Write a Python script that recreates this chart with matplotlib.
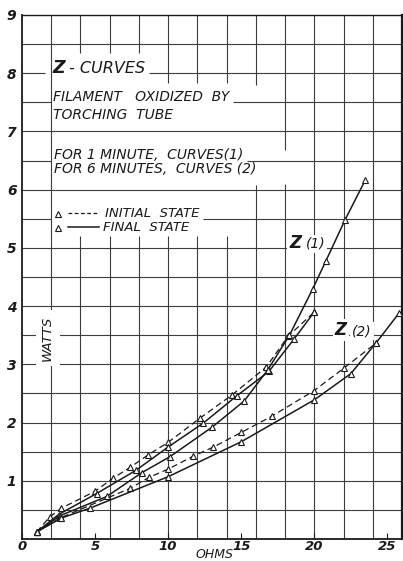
"""Z-curves: watts vs ohms for an oxidized filament."""

from matplotlib import pyplot as plt

# Z(1) curves, both ending at 20 ohms
z1a_x = [1.0, 1.9, 2.7, 5.0, 6.2, 7.4, 8.6, 10.0, 12.2, 14.4, 16.7, 18.2, 20.0]
z1a_y = [0.12, 0.38, 0.53, 0.82, 1.04, 1.23, 1.44, 1.66, 2.08, 2.48, 2.95, 3.48, 3.9]
z1b_x = [1.0, 2.5, 5.1, 7.8, 10.0, 12.4, 14.7, 16.9, 18.6, 20.0]
z1b_y = [0.12, 0.42, 0.78, 1.18, 1.58, 1.99, 2.46, 2.88, 3.43, 3.9]
# Z(1) steep curve
z1c_x = [1.0, 2.6, 5.8, 8.2, 10.1, 13.0, 15.2, 16.8, 18.3, 19.9, 20.8, 22.1, 23.5]
z1c_y = [0.12, 0.40, 0.73, 1.14, 1.41, 1.92, 2.37, 2.90, 3.50, 4.30, 4.78, 5.48, 6.17]
# Z(2) curves
z2a_x = [1.0, 2.6, 7.4, 8.7, 10.0, 11.7, 13.1, 15.0, 17.1, 20.0, 22.0, 24.2]
z2a_y = [0.12, 0.36, 0.87, 1.06, 1.20, 1.42, 1.58, 1.83, 2.11, 2.55, 2.93, 3.36]
z2b_x = [1.0, 2.7, 4.65, 10.0, 15.0, 20.0, 22.5, 24.2, 25.8]
z2b_y = [0.12, 0.36, 0.53, 1.07, 1.67, 2.39, 2.84, 3.36, 3.88]

x_ticks = [0, 5, 10, 15, 20, 25]
y_ticks = [1, 2, 3, 4, 5, 6, 7, 8, 9]

INK = "#1a1a1a"
GRID = "#3c3c3c"
FONT = dict(family="DejaVu Sans", style="oblique", color=INK)

fig = plt.figure(figsize=(4.03, 5.61), dpi=100)
ax = fig.add_axes([22 / 403, 22 / 561, 380 / 403, 524 / 561])
ax.set_xlim(0, 26)
ax.set_ylim(0, 9)

# --- grid, broken where the lettering sits ---
v_breaks = {
    4: [(0, 5.2), (8.35, 9)], 6: [(0, 5.2), (8.35, 9)],
    8: [(0, 5.2), (8.35, 9)], 10: [(0, 5.2), (7.83, 9)],
    12: [(0, 5.2), (7.83, 9)], 14: [(0, 5.2), (7.83, 9)],
    16: [(0, 6.08), (7.8, 9)], 18: [(0, 6.1), (6.68, 9)],
}
for gx in range(2, 26, 2):
    for y0, y1 in v_breaks.get(gx, [(0, 9)]):
        ax.vlines(gx, y0, y1, color=GRID, lw=0.8, zorder=1)

h_left = {8.0: 1.57, 7.5: 2.0, 6.5: 2.0, 5.5: 2.0}
for i in range(1, 18):
    gy = i * 0.5
    if gy in h_left:
        ax.hlines(gy, 0, h_left[gy], color=GRID, lw=0.8, zorder=1)
    else:
        ax.hlines(gy, 0, 26, color=GRID, lw=0.8, zorder=1)

# --- curves ---
mk = dict(marker="^", ms=4.5, mfc="white", mec=INK, mew=0.8, color=INK,
          zorder=4, clip_on=True)
ax.plot(z1a_x, z1a_y, ls=(0, (5, 3)), lw=0.9, **mk)
ax.plot(z1b_x, z1b_y, ls="-", lw=1.1, **mk)
ax.plot(z1c_x, z1c_y, ls="-", lw=1.1, **mk)
ax.plot(z2a_x, z2a_y, ls=(0, (5, 3)), lw=0.9, **mk)
ax.plot(z2b_x, z2b_y, ls="-", lw=1.1, **mk)

# --- lettering ---
ax.text(2.1, 8.0, "Z", fontsize=12.5, fontweight="bold", **FONT)
t_title = ax.text(3.2, 8.0, "- CURVES", fontsize=11.5, **FONT)
t_fil = ax.text(2.1, 7.53, "FILAMENT   OXIDIZED  BY", fontsize=10, **FONT)
ax.text(2.1, 7.22, "TORCHING  TUBE", fontsize=10, **FONT)
t_for1 = ax.text(2.2, 6.53, "FOR 1 MINUTE,  CURVES(1)", fontsize=10, **FONT)
ax.text(2.2, 6.29, "FOR 6 MINUTES,  CURVES (2)", fontsize=10, **FONT)

# legend drawn by hand: triangle, line sample, label
ax.plot([2.45], [5.58], **mk)
ax.plot([3.15, 5.1], [5.6, 5.6], ls=(0, (3, 2)), lw=0.9, color=INK)
t_init = ax.text(5.7, 5.53, "INITIAL  STATE", fontsize=9.5, **FONT)
ax.plot([2.45], [5.34], **mk)
ax.plot([3.15, 5.3], [5.36, 5.36], ls="-", lw=1.1, color=INK)
ax.text(5.55, 5.29, "FINAL  STATE", fontsize=9.5, **FONT)

white = dict(facecolor="white", edgecolor="none", pad=1.5)
ax.text(18.3, 5.0, "Z", fontsize=12, fontweight="bold", zorder=3,
        bbox=white, **FONT)
ax.text(19.4, 5.0, "(1)", fontsize=10, zorder=3, bbox=white, **FONT)
ax.text(21.4, 3.5, "Z", fontsize=12, fontweight="bold", zorder=3,
        bbox=white, **FONT)
ax.text(22.6, 3.5, "(2)", fontsize=10, zorder=3, bbox=white, **FONT)
ax.text(1.75, 3.45, "WATTS", fontsize=9.5, rotation=90, ha="center",
        va="center", zorder=3, bbox=dict(facecolor="white", edgecolor="none",
                                         pad=4), **FONT)
ax.text(13.2, -0.27, "OHMS", fontsize=9, ha="center", va="center",
        clip_on=False, **FONT)

# underlines continue the grid rows after the text
fig.canvas.draw()
rend = fig.canvas.get_renderer()
inv = ax.transData.inverted()
for txt, gy in [(t_title, 8.0), (t_fil, 7.5), (t_for1, 6.5), (t_init, 5.5)]:
    ext = txt.get_window_extent(rend)
    x_end = inv.transform((ext.x1, ext.y0))[0]
    ax.hlines(gy, x_end + 0.25, 26, color=GRID, lw=0.8, zorder=1)

# --- axes ---
ax.set_xticks(x_ticks, [str(v) for v in x_ticks])
ax.set_yticks(y_ticks, [str(v) for v in y_ticks])
ax.tick_params(axis="x", direction="in", length=4, width=0.8, pad=1,
               labelsize=9.5, colors=INK)
ax.tick_params(axis="y", length=0, pad=4, labelsize=10, colors=INK)
for lab in ax.get_xticklabels() + ax.get_yticklabels():
    lab.set_style("oblique")
    lab.set_fontweight("bold")
for side, w in [("left", 1.3), ("bottom", 1.3), ("top", 1.0), ("right", 1.6)]:
    ax.spines[side].set_linewidth(w)
    ax.spines[side].set_color(INK)

fig.savefig("out.png", dpi=100)
plt.close(fig)
